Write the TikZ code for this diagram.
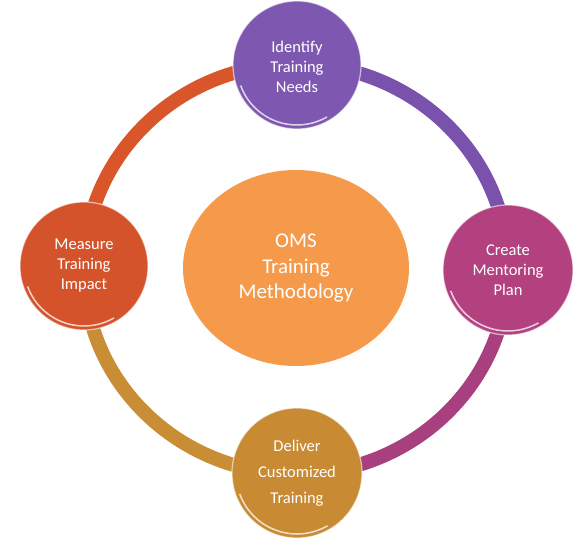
\documentclass[tikz,border=0pt]{standalone}
\usepackage{fontspec}
\setmainfont{Carlito}
\definecolor{cpurple}{HTML}{7E58B0}
\definecolor{rpurple}{HTML}{7B52AB}
\definecolor{cpink}{HTML}{B3417F}
\definecolor{rpink}{HTML}{A8407F}
\definecolor{cgold}{HTML}{C88A33}
\definecolor{rgold}{HTML}{C98E35}
\definecolor{corange}{HTML}{D4532B}
\definecolor{rorange}{HTML}{D9562A}
\definecolor{ccenter}{HTML}{F5994A}
\tikzset{
  ringarc/.style={line width=14pt},
  stagebox/.style={circle, minimum size=128pt, inner sep=0pt, align=center,
    text=white, font=\fontsize{16.5}{20}\selectfont, draw=white, line width=1.2pt,
    draw opacity=0.6},
  rimglow/.style={white, line width=1.5pt, opacity=0.75},
  centerbox/.style={ellipse, minimum width=226pt, minimum height=196pt, inner sep=0pt,
    align=center, text=white, fill=ccenter, font=\fontsize{21}{25.5}\selectfont},
}
\usetikzlibrary{shapes.geometric}
\begin{document}
\begin{tikzpicture}[x=1pt,y=1pt]
\useasboundingbox (0,0) rectangle (584,547);
\coordinate (o) at (296,278);
% ring
\draw[ringarc, rpurple] (o) ++(90:211 and 205) arc[start angle=90, end angle=0, x radius=212, y radius=205];
\draw[ringarc, rpink] (o) ++(0:212 and 205) arc[start angle=0, end angle=-90, x radius=212, y radius=205];
\draw[ringarc, rgold] (o) ++(-90:212 and 205) arc[start angle=-90, end angle=-180, x radius=212, y radius=205];
\draw[ringarc, rorange] (o) ++(180:212 and 205) arc[start angle=180, end angle=90, x radius=212, y radius=205];
% center
\node[centerbox] (c) at (296,279) {OMS\\Training\\Methodology};
% stages
\node[stagebox, fill=cpurple] (top) at (297,482) {\\[-4pt]Identify\\Training\\Needs};
\node[stagebox, fill=cpink, minimum size=130pt] (right) at (508,277) {Create\\Mentoring\\Plan};
\node[stagebox, fill=cgold, minimum size=130pt] (bottom) at (297,74) {Deliver\\[6pt]Customized\\[6pt]Training};
\node[stagebox, fill=corange] (left) at (84,281) {Measure\\Training\\Impact};
% rim highlights
\foreach \n/\r in {top/60, right/61, bottom/61, left/60}
  \draw[rimglow] (\n.center) ++(200:\r) arc[start angle=200, end angle=300, radius=\r];
\end{tikzpicture}
\end{document}
